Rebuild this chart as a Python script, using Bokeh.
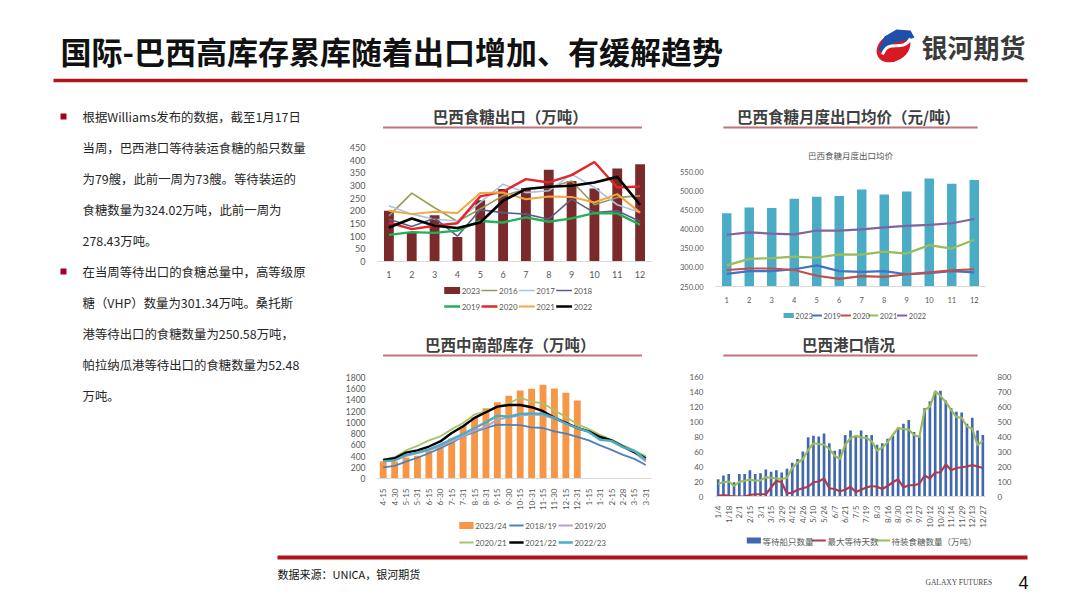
import math
from bokeh.plotting import figure
from bokeh.layouts import column, row
from bokeh.models import (Range1d, FactorRange, LinearAxis, SingleIntervalTicker, FixedTicker,
                          NumeralTickFormatter, CustomJSTickFormatter, Spacer)
from bokeh.core.properties import value
from bokeh.embed import file_html
from bokeh.resources import INLINE

CJK = "Noto Sans CJK SC"
NUM = "Lato"

# ---------------- data ----------------
page_title = "国际-巴西高库存累库随着出口增加、有缓解趋势"
logo_text = "银河期货"
bullet1 = ["根据Williams发布的数据，截至1月17日",
           "当周，巴西港口等待装运食糖的船只数量",
           "为79艘，此前一周为73艘。等待装运的",
           "食糖数量为324.02万吨，此前一周为",
           "278.43万吨。"]
bullet2 = ["在当周等待出口的食糖总量中，高等级原",
           "糖（VHP）数量为301.34万吨。桑托斯",
           "港等待出口的食糖数量为250.58万吨，",
           "帕拉纳瓜港等待出口的食糖数量为52.48",
           "万吨。"]
source_text = "数据来源：UNICA，银河期货"
page_no = "4"

# chart 1: Brazil sugar exports (10k t)
months = ["1", "2", "3", "4", "5", "6", "7", "8", "9", "10", "11", "12"]
exp_2023 = [200, 115, 183, 97, 242, 286, 290, 362, 318, 288, 367, 384]
exp_2016 = [180, 270, 212, 158, 207, 260, 285, 292, 318, 224, 253, 259]
exp_2017 = [220, 187, 167, 160, 233, 305, 272, 279, 345, 292, 224, 193]
exp_2018 = [167, 138, 171, 100, 204, 193, 187, 167, 246, 193, 200, 158]
exp_2019 = [105, 116, 113, 122, 160, 154, 174, 157, 170, 191, 190, 145]
exp_2020 = [154, 128, 141, 151, 257, 276, 325, 312, 341, 393, 292, 296]
exp_2021 = [200, 187, 196, 191, 270, 272, 246, 257, 255, 233, 266, 193]
exp_2022 = [134, 170, 141, 132, 154, 240, 286, 295, 299, 312, 334, 224]

# chart 2: monthly average export price (yuan/t)
price_2023 = [441, 456, 455, 479, 484, 486, 503, 490, 498, 532, 518, 528]
price_2019 = [283, 290, 290, 295, 305, 290, 288, 290, 282, 285, 290, 287]
price_2020 = [293, 297, 297, 293, 278, 270, 277, 275, 282, 287, 292, 295]
price_2021 = [305, 322, 324, 328, 325, 334, 333, 341, 336, 358, 349, 372]
price_2022 = [385, 391, 388, 386, 396, 396, 399, 404, 408, 411, 415, 426]

# chart 3: centre-south inventory (10k t)
inv_dates = ["4-15", "4-30", "5-15", "5-31", "6-15", "6-30", "7-15", "7-31",
             "8-15", "8-31", "9-15", "9-30", "10-15", "10-31", "11-15", "11-30",
             "12-15", "12-31", "1-15", "1-31", "2-15", "2-28", "3-15", "3-31"]
inv_2324 = [305, 305, 375, 405, 490, 575, 715, 940, 1090, 1250, 1360, 1475,
            1570, 1600, 1670, 1605, 1530, 1390]
inv_1819 = [200, 225, 300, 370, 450, 540, 640, 750, 830, 900, 960, 955,
            950, 910, 900, 840, 800, 740, 680, 590, 510, 420, 350, 240]
inv_1920 = [320, 330, 400, 450, 500, 570, 660, 750, 850, 920, 1050, 1090,
            1120, 1140, 1130, 1060, 980, 900, 840, 740, 660, 560, 460, 300]
inv_2021 = [330, 380, 500, 580, 680, 750, 880, 990, 1140, 1200, 1280, 1340,
            1440, 1370, 1340, 1210, 1100, 970, 880, 780, 690, 590, 500, 400]
inv_2122 = [330, 360, 460, 500, 570, 660, 810, 930, 1080, 1180, 1280, 1310,
            1310, 1270, 1200, 1080, 990, 900, 840, 740, 680, 570, 470, 360]
inv_2223 = [310, 320, 420, 460, 520, 600, 700, 790, 900, 1000, 1120, 1100,
            1150, 1160, 1150, 1080, 980, 900, 830, 690, 670, 560, 490, 330]

# chart 4: port line-up (weekly)
port_labels = ["1/4", "1/18", "2/1", "2/15", "3/1", "3/15", "3/29", "4/12", "4/26",
               "5/10", "5/24", "6/7", "6/21", "7/5", "7/19", "8/3", "8/16", "8/30",
               "9/13", "9/27", "10/12", "10/25", "11/14", "11/29", "12/13", "12/27"]
ships = [23, 28, 30, 19, 30, 30, 35, 30, 31, 36, 33, 35, 32, 37, 45, 50, 60, 79,
         81, 80, 84, 71, 61, 63, 82, 88, 81, 88, 82, 82, 69, 71, 77, 81, 92, 97,
         102, 86, 81, 118, 127, 140, 141, 128, 118, 113, 112, 97, 105, 88, 82]
max_days = [1, 2, 1, 0, 0, 0, 2, 3, 3, 3, 12, 21, 19, 4, 5, 9, 11, 13, 19, 20,
            24, 11, 10, 7, 9, 13, 6, 9, 12, 14, 13, 10, 14, 19, 23, 12, 15, 15,
            17, 28, 24, 32, 32, 43, 35, 38, 39, 40, 42, 40, 38]
sugar_wait = [85, 95, 100, 70, 98, 105, 112, 105, 108, 128, 125, 120, 117, 125,
              190, 225, 250, 310, 355, 350, 345, 318, 272, 250, 345, 390, 404,
              394, 390, 369, 306, 327, 362, 410, 456, 450, 446, 410, 396, 577,
              598, 702, 671, 629, 577, 529, 525, 467, 452, 342, 371]
week_idx = list(range(len(ships)))

RED = "#B0141C"

# ---------------- series styles ----------------
S1 = {"2023": ("bar", dict(fill_color="#7A2A2A")),
      "2016": ("line", dict(line_color="#9A9B56", line_width=1.6)),
      "2017": ("line", dict(line_color="#A8C3E2", line_width=1.6)),
      "2018": ("line", dict(line_color="#5B5E87", line_width=1.6)),
      "2019": ("line", dict(line_color="#22B05A", line_width=2.4)),
      "2020": ("line", dict(line_color="#E2262C", line_width=2.4)),
      "2021": ("line", dict(line_color="#F5A540", line_width=2.0)),
      "2022": ("line", dict(line_color="#000000", line_width=2.6))}
S2 = {"2023": ("bar", dict(fill_color="#4BACC6")),
      "2019": ("line", dict(line_color="#4472C4", line_width=2.2)),
      "2020": ("line", dict(line_color="#C0504D", line_width=2.2)),
      "2021": ("line", dict(line_color="#9BBB59", line_width=2.2)),
      "2022": ("line", dict(line_color="#8064A2", line_width=2.2))}
S3 = {"2023/24": ("bar", dict(fill_color="#F79646")),
      "2018/19": ("line", dict(line_color="#4F81BD", line_width=1.8)),
      "2019/20": ("line", dict(line_color="#B3A2C7", line_width=1.8)),
      "2020/21": ("line", dict(line_color="#A9C46F", line_width=1.8)),
      "2021/22": ("line", dict(line_color="#000000", line_width=2.4)),
      "2022/23": ("line", dict(line_color="#4BACC6", line_width=2.4))}
S4 = {"等待船只数量": ("bar", dict(fill_color="#3F68B0")),
      "最大等待天数": ("line", dict(line_color="#B03A48", line_width=2.2)),
      "待装食糖数量（万吨）": ("line", dict(line_color="#9BBB59", line_width=2.2))}


# ---------------- helpers ----------------
def deco(w, h):
    p = figure(width=w, height=h, x_range=Range1d(0, w), y_range=Range1d(h, 0),
               x_axis_type=None, y_axis_type=None,
               toolbar_location=None, output_backend="svg", min_border=0)
    p.grid.visible = False
    p.outline_line_color = None
    return p


def subtitle(w, h, text, cx, ty, x0, x1, ly):
    p = deco(w, h)
    p.text(x=[cx], y=[ty], text=[text], text_font=value(CJK), text_font_size="15.5px",
           text_font_style="bold", text_color="#3F3F3F", text_align="center",
           text_baseline="middle")
    p.segment(x0=[x0], y0=[ly], x1=[x1], y1=[ly], line_color="#C07474", line_width=2)
    return p


def style(p, size):
    p.outline_line_color = None
    p.grid.visible = False
    for ax in p.axis:
        ax.major_tick_line_color = None
        ax.minor_tick_line_color = None
        ax.major_label_text_font = NUM
        ax.major_label_text_font_size = size
        ax.major_label_text_color = "#595959"
        ax.major_label_standoff = 6
    for ax in p.yaxis:
        ax.axis_line_color = None
    for ax in p.xaxis:
        ax.axis_line_color = "#D9D9D9"


def legend_strip(w, h, styles, rows, size, gw, gh, font):
    # legend key strip: rows = list of (labels, key x-positions, row centre y)
    f = deco(w, h)
    for labels, xs, cy in rows:
        for lab, gx in zip(labels, xs):
            kind, kw = styles[lab]
            if kind == "bar":
                f.rect(x=[gx + gw / 2], y=[cy], width=gw, height=gh, line_color=None, **kw)
            else:
                f.segment(x0=[gx], y0=[cy], x1=[gx + gw], y1=[cy], **kw)
        f.text(x=[gx + gw + 2 for gx in xs], y=[cy] * len(labels), text=list(labels),
               text_font=value(font), text_font_size=size, text_color="#595959",
               text_baseline="middle")
    return f


# ---------------- header ----------------
header = deco(1080, 100)
header.text(x=[60], y=[50], text=[page_title], text_font=value(CJK), text_font_size="31px",
            text_font_style="bold", text_color="#111111", text_baseline="middle")
header.ellipse(x=[893], y=[47], width=[36], height=[27], angle=[0.55],
               fill_color="#D71A21", line_color=None)
header.patch(x=[878, 884, 896, 910, 914, 906, 894, 882],
             y=[49, 36, 29, 30, 37, 40, 42, 53], fill_color="#1F4FA8", line_color=None)
header.bezier(x0=[882], y0=[54], x1=[910], y1=[38], cx0=[888], cy0=[37], cx1=[902], cy1=[53],
              line_color="white", line_width=3)
header.text(x=[921], y=[46], text=[logo_text], text_font=value(CJK), text_font_size="26px",
            text_font_style="bold", text_color="#3A3A3A", text_baseline="middle")
header.segment(x0=[53], y0=[80], x1=[1027], y1=[80], line_color=RED, line_width=3.5)

# ---------------- left text ----------------
txt = deco(330, 448)
lines = bullet1 + bullet2
ys = [16, 47, 78, 109, 140, 171, 202, 233, 264, 295]
txt.text(x=[82] * len(lines), y=ys, text=lines, text_font=value(CJK), text_font_size="12.4px",
         text_color="#262626", text_baseline="middle")
txt.rect(x=[63, 63], y=[ys[0], ys[len(bullet1)]], width=6, height=6,
         fill_color="#A50021", line_color=None)

# ---------------- chart 1 ----------------
c1 = figure(width=345, height=147, x_range=FactorRange(*months), y_range=Range1d(0, 450),
            toolbar_location=None, output_backend="svg",
            min_border_left=40, min_border_right=24, min_border_top=12, min_border_bottom=21)
c1.vbar(x=months, top=exp_2023, width=0.43, line_color=None, **S1["2023"][1])
for lab, ys_ in [("2016", exp_2016), ("2017", exp_2017), ("2018", exp_2018),
                 ("2019", exp_2019), ("2020", exp_2020), ("2021", exp_2021),
                 ("2022", exp_2022)]:
    c1.line(x=months, y=ys_, **S1[lab][1])
c1.yaxis.ticker = SingleIntervalTicker(interval=50)
style(c1, "9px")
c1.xaxis.major_label_standoff = 3
lg1 = legend_strip(345, 48, S1, [(["2023", "2016", "2017", "2018"], [84, 131, 178, 225], 8),
                                 (["2019", "2020", "2021", "2022"], [84, 131, 178, 225], 24)],
                   "8px", 20, 7, NUM)

# ---------------- chart 2 ----------------
c2 = figure(width=345, height=170, x_range=FactorRange(*months), y_range=Range1d(250, 550),
            toolbar_location=None, output_backend="svg",
            min_border_left=40, min_border_right=16, min_border_top=32, min_border_bottom=18)
c2.title.text = "巴西食糖月度出口均价"
c2.title.align = "center"
c2.title.text_font = CJK
c2.title.text_font_size = "8.5px"
c2.title.text_font_style = "normal"
c2.title.text_color = "#595959"
c2.title.standoff = 22
c2.vbar(x=months, top=price_2023, bottom=c2.y_range.start, width=0.42, line_color=None,
        **S2["2023"][1])
for lab, ys_ in [("2019", price_2019), ("2020", price_2020), ("2021", price_2021),
                 ("2022", price_2022)]:
    c2.line(x=months, y=ys_, **S2[lab][1])
c2.yaxis.ticker = SingleIntervalTicker(interval=50)
c2.yaxis.formatter = NumeralTickFormatter(format="0.00")
style(c2, "7.5px")
c2.xaxis.major_label_standoff = 4
lg2 = legend_strip(345, 25, S2, [(["2023", "2019", "2020", "2021", "2022"],
                                  [87, 123, 160, 195, 232], 10)], "7.5px", 13, 5, NUM)

# ---------------- chart 3 ----------------
c3 = figure(width=345, height=148, x_range=FactorRange(*inv_dates), y_range=Range1d(0, 1800),
            toolbar_location=None, output_backend="svg",
            min_border_left=47, min_border_right=13, min_border_top=12, min_border_bottom=29)
c3.vbar(x=inv_dates[:len(inv_2324)], top=inv_2324, width=0.6, line_color=None,
        **S3["2023/24"][1])
for lab, ys_ in [("2018/19", inv_1819), ("2019/20", inv_1920), ("2020/21", inv_2021),
                 ("2021/22", inv_2122), ("2022/23", inv_2223)]:
    c3.line(x=inv_dates, y=ys_, **S3[lab][1])
c3.yaxis.ticker = SingleIntervalTicker(interval=200)
style(c3, "8.5px")
c3.xaxis.major_label_orientation = math.pi / 2
c3.xaxis.major_label_text_font_size = "8px"
c3.xaxis.major_label_standoff = 4
lg3 = legend_strip(345, 35, S3, [(["2023/24", "2018/19", "2019/20"], [103, 166, 228], 12),
                                 (["2020/21", "2021/22", "2022/23"], [103, 166, 228], 29)],
                   "8px", 18, 7, NUM)

# ---------------- chart 4 ----------------
c4 = figure(width=345, height=165, x_range=Range1d(-0.5, len(ships) - 0.5),
            y_range=Range1d(0, 160), toolbar_location=None, output_backend="svg",
            min_border_left=34, min_border_right=35, min_border_top=11, min_border_bottom=26)
c4.extra_y_ranges = {"right": Range1d(0, 800)}
c4.vbar(x=week_idx, top=ships, width=0.5, line_color=None, **S4["等待船只数量"][1])
c4.line(x=week_idx, y=max_days, **S4["最大等待天数"][1])
c4.line(x=week_idx, y=sugar_wait, y_range_name="right", **S4["待装食糖数量（万吨）"][1])
c4.add_layout(LinearAxis(y_range_name="right", ticker=SingleIntervalTicker(interval=100)), "right")
c4.yaxis[0].ticker = SingleIntervalTicker(interval=20)
c4.xaxis.ticker = FixedTicker(ticks=week_idx[::2])
c4.xaxis.formatter = CustomJSTickFormatter(
    args=dict(labels=port_labels),
    code="const i = Math.round(tick / 2); return (i >= 0 && i < labels.length) ? labels[i] : '';")
style(c4, "8px")
c4.xaxis.major_label_orientation = math.pi / 2
c4.xaxis.major_label_standoff = 3
lg4 = legend_strip(345, 18, S4, [(["等待船只数量", "最大等待天数", "待装食糖数量（万吨）"],
                                  [40, 123, 205], 10)], "8.5px", 18, 6, CJK)

# ---------------- subtitles ----------------
s1 = subtitle(345, 35, "巴西食糖出口（万吨）", 167, 15, 7, 333, 27)
s2 = subtitle(345, 35, "巴西食糖月度出口均价（元/吨）", 170, 15, 10, 335, 27)
s3 = subtitle(345, 35, "巴西中南部库存（万吨）", 167, 13, 7, 333, 25)
s4 = subtitle(345, 35, "巴西港口情况", 170, 13, 10, 335, 25)

# ---------------- footer ----------------
footer = deco(1080, 52)
footer.segment(x0=[277], y0=[9], x1=[1027], y1=[9], line_color=RED, line_width=4)
footer.text(x=[277], y=[25], text=[source_text], text_font=value(CJK), text_font_size="11px",
            text_color="#111111", text_baseline="middle")
footer.text(x=[925], y=[34], text=["GALAXY FUTURES"], text_font=value("Liberation Serif"),
            text_font_size="7.5px", text_color="#444444", text_baseline="middle")
footer.text(x=[1018], y=[34], text=[page_no], text_font=value("Liberation Sans"),
            text_font_size="18px", text_color="#111111", text_baseline="middle")

col1 = column(s1, c1, lg1, s3, c3, lg3, spacing=0)
col2 = column(s2, c2, lg2, s4, c4, lg4, spacing=0)
mid = row(txt, col1, col2, Spacer(width=60, height=448), spacing=0)
page = column(header, mid, footer, spacing=0)

open("out.html", "w").write(file_html(page, INLINE))
